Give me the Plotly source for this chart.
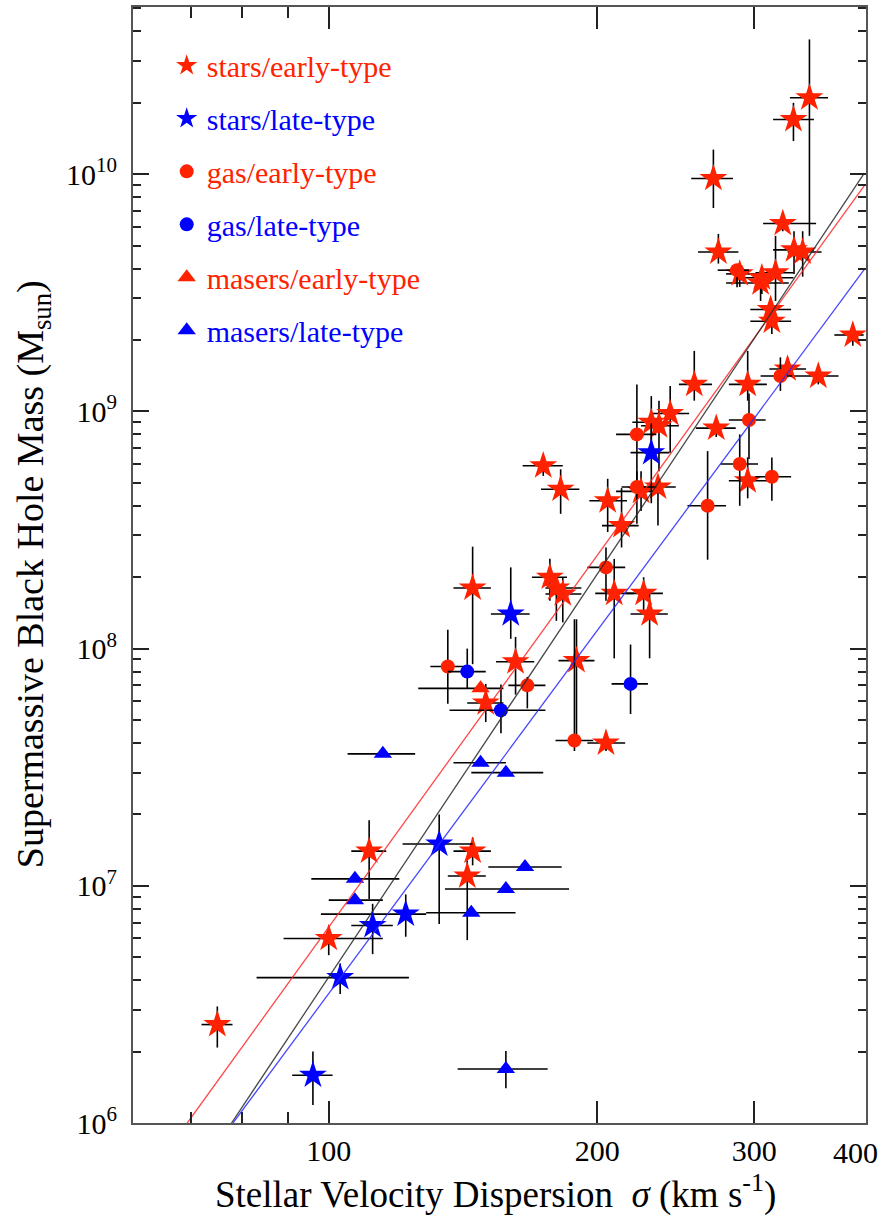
import math
import plotly.graph_objects as go

# ---------------- data ----------------
# stars / early-type  (sigma [km/s], sigma_lo, sigma_hi, M [Msun], M_lo, M_hi)
se_sig = [346, 332, 270, 323, 273.5, 332.5, 340, 289, 306, 305, 317, 313, 314, 387, 257, 295, 327, 354,
          272, 241.5, 230, 234.6, 295, 174, 182, 224, 234, 205.5, 213, 177, 180, 183, 209, 225.5, 229,
          145, 162, 150, 189.6, 204.6, 111, 145, 143, 100, 75]
se_slo = [329, 315, 255, 307, 259.5, 315, 327, 279, 292, 279, 301, 297, 297, 369, 247, 281, 312, 332.5,
          258, 230, 219, 224, 281, 165, 173, 210, 222, 196, 202.5, 169, 175, 175, 199, 215.5, 218,
          138, 154, 143, 181, 195, 106, 138, 136, 89, 72]
se_shi = [363, 350, 284, 352, 288, 350, 357, 302, 332, 328, 332, 330, 330, 398, 269, 310, 343, 373,
          286, 253.6, 242, 247, 310, 183, 191, 236, 245, 216, 222.6, 185, 192, 192, 220, 237, 240,
          152, 170, 157, 198.6, 215, 116, 152, 150, 115, 78]
se_M = [2.10e10, 1.70e10, 9.6e9, 6.2e9, 4.7e9, 4.8e9, 4.7e9, 3.8e9, 3.66e9, 3.48e9, 3.84e9, 2.69e9, 2.40e9,
        2.10e9, 1.30e9, 1.30e9, 1.51e9, 1.41e9, 8.5e8, 9.8e8, 9.0e8, 8.7e8, 5.1e8, 5.9e8, 4.7e8, 4.6e8,
        4.8e8, 4.2e8, 3.3e8, 2.0e8, 1.80e8, 1.70e8, 1.71e8, 1.71e8, 1.40e8, 1.80e8, 8.8e7, 5.9e7, 8.9e7,
        4.0e7, 1.40e7, 1.40e7, 1.10e7, 6.0e6, 2.6e6]
se_Mlo = [5.5e9, 1.38e10, 7.2e9, 5.75e9, 4.2e9, 3.8e9, 3.7e9, 3.35e9, 3.13e9, 2.92e9, 2.92e9, 2.37e9, 2.12e9,
          1.89e9, 1.11e9, 1.11e9, 1.39e9, 1.30e9, 7.8e8, 6.7e8, 6.5e8, 5.6e8, 4.3e8, 5.35e8, 3.7e8, 3.8e8,
          3.3e8, 3.1e8, 2.67e8, 1.59e8, 1.31e8, 1.29e8, 9.1e7, 1.45e8, 9.1e7, 8.6e7, 6.4e7, 4.9e7, 4.2e7,
          3.7e7, 8.8e6, 1.22e7, 5.9e6, 5.1e6, 2.08e6]
se_Mhi = [3.7e10, 2.00e10, 1.27e10, 6.9e9, 5.6e9, 5.75e9, 5.75e9, 4.2e9, 4.03e9, 3.91e9, 5.5e9, 3.01e9, 2.70e9,
          2.29e9, 1.80e9, 1.80e9, 1.69e9, 1.53e9, 9.1e8, 1.28e9, 1.16e9, 1.11e9, 6.4e8, 6.3e8, 5.7e8, 5.6e8,
          5.35e8, 5.2e8, 4.75e8, 2.39e8, 2.03e8, 2.00e8, 2.39e8, 2.00e8, 1.71e8, 2.69e8, 1.12e8, 7.1e7, 1.33e8,
          4.3e7, 1.89e7, 1.60e7, 1.28e7, 6.8e6, 3.1e6]

# stars / late-type
sl_sig = [230, 160, 133, 122, 112, 103, 96]
sl_slo = [218, 152, 121, 98, 106, 83, 91]
sl_shi = [241, 168, 145, 128.6, 118, 123, 101]
sl_M = [6.7e8, 1.40e8, 1.50e7, 7.6e6, 6.8e6, 4.1e6, 1.59e6]
sl_Mlo = [4.1e8, 1.10e8, 6.9e6, 6.1e6, 5.15e6, 3.5e6, 1.19e6]
sl_Mhi = [8.9e8, 2.2e8, 2.0e7, 9.2e6, 8.4e6, 4.7e6, 2.0e6]

# gas / early-type
ge_sig = [287, 321, 296, 221.6, 221.6, 289, 314, 266, 204.6, 136, 167, 188.6]
ge_slo = [273, 305, 281, 210, 213, 275, 301, 252.5, 195, 130, 159, 179.6]
ge_shi = [296, 331, 309, 233, 233, 303, 330, 279, 215, 143, 175, 198]
ge_M = [3.94e9, 1.41e9, 9.2e8, 8.0e8, 4.8e8, 6.0e8, 5.3e8, 4.0e8, 2.2e8, 8.4e7, 7.0e7, 4.1e7]
ge_Mlo = [3.34e9, 1.22e9, 6.3e8, 4.8e8, 3.36e8, 4.0e8, 4.2e8, 2.37e8, 1.59e8, 5.85e7, 5.6e7, 3.7e7]
ge_Mhi = [4.18e9, 1.69e9, 1.19e9, 1.30e9, 5.6e8, 8.0e8, 6.4e8, 6.8e8, 2.67e8, 1.20e8, 7.6e7, 1.33e8]

# gas / late-type
gl_sig = [143, 156, 218]
gl_slo = [136, 136.6, 207.6]
gl_shi = [150, 175, 228]
gl_M = [8.0e7, 5.5e7, 7.1e7]
gl_Mlo = [6.8e7, 4.4e7, 5.3e7]
gl_Mhi = [1.0e8, 7.05e7, 1.04e8]

# masers / early-type
me_sig = [148]
me_slo = [126]
me_shi = [157]
me_M = [6.8e7]
me_Mlo = [6.8e7]
me_Mhi = [6.8e7]

# masers / late-type
ml_sig = [115, 148, 158, 107, 107, 166, 158, 144.5, 158]
ml_slo = [105, 138, 144.5, 95.6, 100, 151, 135, 128.6, 139.5]
ml_shi = [125, 158, 174, 120, 115, 182.5, 186, 162, 176]
ml_M = [3.6e7, 3.3e7, 3.0e7, 1.07e7, 8.7e6, 1.20e7, 9.7e6, 7.7e6, 1.69e6]
ml_Mlo = [3.6e7, 3.3e7, 3.0e7, 1.07e7, 8.7e6, 1.20e7, 9.7e6, 7.7e6, 1.40e6]
ml_Mhi = [3.6e7, 3.3e7, 3.0e7, 1.07e7, 8.7e6, 1.20e7, 9.7e6, 7.7e6, 2.01e6]

# fitted relations (end points)
fit_all_sig = [77.8, 398.7]
fit_all_M = [1.0e6, 1.01e10]
fit_early_sig = [69.4, 398.7]
fit_early_M = [1.0e6, 8.96e9]
fit_late_sig = [78.1, 398.7]
fit_late_M = [1.0e6, 3.97e9]

# axis ticks
x_tickvals = [100, 200, 300, 400]
x_ticktext = ["100", "200", "300", ""]
x_last_label = "400"
x_minor = [70, 80, 90]
y_tickvals = [1e6, 1e7, 1e8, 1e9, 1e10]
y_ticktext = ["10<sup>6</sup>", "10<sup>7</sup>", "10<sup>8</sup>", "10<sup>9</sup>", "10<sup>10</sup>"]
y_minor = [m * 10 ** e for e in range(6, 11) for m in range(2, 10) if m * 10 ** e <= 5e10]

RED = "#ff2200"
BLUE = "#0000ff"
FONT = "Liberation Serif"

fig = go.Figure()


def add_series(label, color, symbol, size, sig, slo, shi, M, Mlo, Mhi):
    fig.add_trace(go.Scatter(
        x=sig, y=M, mode="markers",
        name=f"<span style='color:{color}'>{label}</span>",
        legendgroup=label,
        marker=dict(symbol=symbol, size=size, color=color, line=dict(width=0)),
        error_x=dict(type="data", symmetric=False,
                     array=[h - s for s, h in zip(sig, shi)],
                     arrayminus=[s - l for s, l in zip(sig, slo)],
                     color="black", thickness=1.6, width=0),
        error_y=dict(type="data", symmetric=False,
                     array=[h - m for m, h in zip(M, Mhi)],
                     arrayminus=[m - l for m, l in zip(M, Mlo)],
                     color="black", thickness=1.6, width=0),
    ))


add_series("stars/early-type", RED, "star", 21, se_sig, se_slo, se_shi, se_M, se_Mlo, se_Mhi)
add_series("stars/late-type", BLUE, "star", 21, sl_sig, sl_slo, sl_shi, sl_M, sl_Mlo, sl_Mhi)
add_series("gas/early-type", RED, "circle", 14, ge_sig, ge_slo, ge_shi, ge_M, ge_Mlo, ge_Mhi)
add_series("gas/late-type", BLUE, "circle", 14, gl_sig, gl_slo, gl_shi, gl_M, gl_Mlo, gl_Mhi)
add_series("masers/early-type", RED, "triangle-up", 16, me_sig, me_slo, me_shi, me_M, me_Mlo, me_Mhi)
add_series("masers/late-type", BLUE, "triangle-up", 16, ml_sig, ml_slo, ml_shi, ml_M, ml_Mlo, ml_Mhi)

for xs, ys, c in [(fit_early_sig, fit_early_M, "rgba(255,40,40,0.85)"),
                  (fit_all_sig, fit_all_M, "rgba(40,40,40,0.85)"),
                  (fit_late_sig, fit_late_M, "rgba(40,40,255,0.85)")]:
    fig.add_trace(go.Scatter(x=xs, y=ys, mode="lines", line=dict(color=c, width=1.3),
                             showlegend=False, hoverinfo="skip"))

axis_common = dict(
    showline=True, linecolor="#555555", linewidth=2, mirror="ticks",
    ticks="inside", tickcolor="#222222", tickwidth=1.5,
    showgrid=False, zeroline=False, automargin=False,
    ticklabeloverflow="allow",
    tickfont=dict(family=FONT, size=30, color="black"),
)

fig.update_xaxes(type="log", range=[1.7805, 2.6025],
                 tickvals=x_tickvals, ticktext=x_ticktext, ticklen=22,
                 ticklabelstandoff=0,
                 minor=dict(tickvals=x_minor, ticks="inside", ticklen=11,
                            tickcolor="#222222", tickwidth=1.5, showgrid=False),
                 **axis_common)
fig.update_yaxes(type="log", range=[6, 10.705],
                 tickvals=y_tickvals, ticktext=y_ticktext, ticklen=16,
                 ticklabelstandoff=8,
                 minor=dict(tickvals=y_minor, ticks="inside", ticklen=8,
                            tickcolor="#222222", tickwidth=1.5, showgrid=False),
                 **axis_common)

# last x tick label, pulled in from the right edge as in the reference
fig.add_annotation(text=x_last_label, xref="x", yref="paper",
                   x=math.log10(x_tickvals[-1]), y=0,
                   xanchor="right", yanchor="top", xshift=14, yshift=-11,
                   showarrow=False, font=dict(family=FONT, size=30, color="black"))

fig.add_annotation(text="Supermassive Black Hole Mass (M<sub>sun</sub>)",
                   xref="paper", yref="paper", x=-0.136, y=0.492,
                   xanchor="center", yanchor="middle", textangle=-90, showarrow=False,
                   font=dict(family=FONT, size=38, color="black"))
fig.add_annotation(text="Stellar Velocity Dispersion  <i>σ</i> (km s<sup>-1</sup>)",
                   xref="paper", yref="paper", x=0.494, y=-0.062,
                   xanchor="center", yanchor="middle", showarrow=False,
                   font=dict(family=FONT, size=37, color="black"))

fig.update_layout(
    width=881, height=1221,
    margin=dict(l=133, r=15, t=7, b=98),
    paper_bgcolor="white", plot_bgcolor="white",
    showlegend=True,
    legend=dict(x=0.046, y=0.971, xanchor="left", yanchor="top",
                bgcolor="rgba(0,0,0,0)", borderwidth=0,
                font=dict(family=FONT, size=30, color="black"),
                traceorder="grouped", tracegroupgap=11, itemsizing="trace"),
)

fig.write_html("out.html", config={"displayModeBar": False},
               post_script="document.body.style.margin='0';document.body.style.overflow='hidden';")
